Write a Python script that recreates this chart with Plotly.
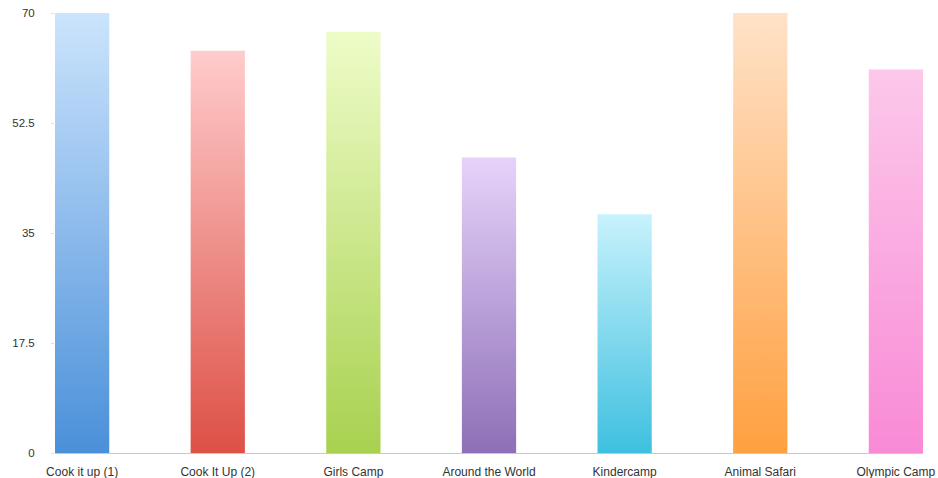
import plotly.graph_objects as go

categories = ["Cook it up (1)", "Cook It Up (2)", "Girls Camp", "Around the World",
              "Kindercamp", "Animal Safari", "Olympic Camp"]
values = [70, 64, 67, 47, 38, 70, 61]
top_colors = ["#cce4fd", "#ffcccc", "#eefcc8", "#e6d3fa", "#c8f2fc", "#ffe2c8", "#fcc8ea"]
bottom_colors = ["#4a90d9", "#dd5046", "#a8d14f", "#8e6fb8", "#3ec0e0", "#ffa040", "#f98ad6"]
y_ticks = [0, 17.5, 35, 52.5, 70]
y_ticktext = ["0", "17.5", "35", "52.5", "70"]

half_width = 0.2

fig = go.Figure()
for i, (cat, v, ct, cb) in enumerate(zip(categories, values, top_colors, bottom_colors)):
    xs = [i - half_width, i + half_width, i + half_width, i - half_width, i - half_width]
    ys = [0, 0, v, v, 0]
    fig.add_trace(go.Scatter(
        x=xs, y=ys, mode="lines", fill="toself",
        line=dict(width=0, color=cb),
        fillgradient=dict(type="vertical", start=0, stop=v,
                          colorscale=[[0, cb], [1, ct]]),
        name=cat, hoverinfo="skip", showlegend=False,
    ))

fig.update_layout(
    width=938, height=478,
    margin=dict(l=55, r=15, t=13, b=25, autoexpand=False),
    paper_bgcolor="white", plot_bgcolor="white",
    font=dict(family="Liberation Sans", size=11.5, color="#333333"),
    showlegend=False,
)
fig.update_xaxes(
    range=[-half_width, len(categories) - 1 + half_width],
    tickmode="array", tickvals=list(range(len(categories))), ticktext=categories,
    tickfont=dict(size=12),
    showgrid=False, zeroline=False, showline=True, linecolor="#c8c8c8", linewidth=1,
    ticks="", ticklabelstandoff=8, fixedrange=True, automargin=False,
)
fig.update_yaxes(
    range=[0, 70], tickmode="array", tickvals=y_ticks, ticktext=y_ticktext,
    showgrid=False, zeroline=False, showline=False,
    ticks="outside", ticklen=3, tickcolor="#dddddd", ticklabelstandoff=14,
    automargin=False, fixedrange=True,
)

fig.write_html(
    "out.html",
    config={"displayModeBar": False},
    post_script="document.body.style.margin='0';document.body.style.padding='0';document.body.style.overflow='hidden';",
)
